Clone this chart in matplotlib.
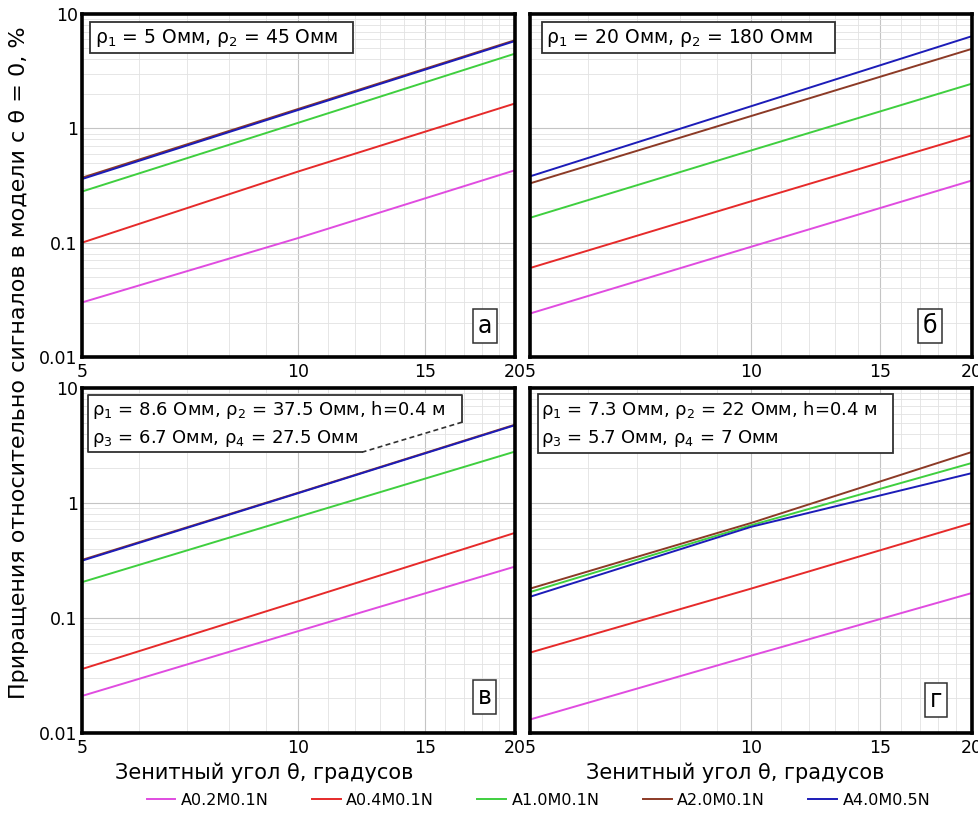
import numpy as np
import matplotlib
matplotlib.use("Agg")
import matplotlib.pyplot as plt
from matplotlib.ticker import FixedLocator, FixedFormatter, NullFormatter
from matplotlib.patches import Rectangle

plt.rcParams['font.family'] = ['DejaVu Sans']

# zenith angle, degrees
theta = [5, 10, 20]

labels = ['A0.2M0.1N', 'A0.4M0.1N', 'A1.0M0.1N', 'A2.0M0.1N', 'A4.0M0.5N']
colors = ['#e04ce0', '#e62a2a', '#3fcf3f', '#8c3a26', '#1c1cb8']

# increments, %, per panel and model (order as in labels)
panel_a = [[0.030, 0.11, 0.43],
           [0.10, 0.42, 1.65],
           [0.28, 1.12, 4.5],
           [0.37, 1.48, 5.9],
           [0.36, 1.45, 5.8]]
panel_b = [[0.024, 0.092, 0.35],
           [0.06, 0.23, 0.87],
           [0.165, 0.64, 2.46],
           [0.33, 1.28, 4.96],
           [0.38, 1.56, 6.4]]
panel_v = [[0.021, 0.077, 0.28],
           [0.036, 0.14, 0.55],
           [0.205, 0.76, 2.8],
           [0.32, 1.23, 4.8],
           [0.315, 1.22, 4.75]]
panel_g = [[0.0131, 0.047, 0.165],
           [0.05, 0.18, 0.67],
           [0.168, 0.64, 2.23],
           [0.18, 0.67, 2.78],
           [0.153, 0.62, 1.82]]

panel_letters = ['а', 'б', 'в', 'г']
panel_notes = [['ρ$_1$ = 5 Омм, ρ$_2$ = 45 Омм'],
               ['ρ$_1$ = 20 Омм, ρ$_2$ = 180 Омм'],
               ['ρ$_{1}$ = 8.6 Омм, ρ$_{2}$ = 37.5 Омм, h=0.4 м',
                'ρ$_{3}$ = 6.7 Омм, ρ$_{4}$ = 27.5 Омм'],
               ['ρ$_{1}$ = 7.3 Омм, ρ$_{2}$ = 22 Омм, h=0.4 м',
                'ρ$_{3}$ = 5.7 Омм, ρ$_{4}$ = 7 Омм']]

fig = plt.figure(figsize=(9.79, 8.14), dpi=100)

W = 979.0
H = 814.0
def box(x0, y0, x1, y1):
    return [x0 / W, 1 - y1 / H, (x1 - x0) / W, (y1 - y0) / H]

rects = [box(82, 14, 515, 357), box(530, 14, 972, 357),
         box(82, 388, 515, 733), box(530, 388, 972, 733)]
datas = [panel_a, panel_b, panel_v, panel_g]
letter_pos = [(0.93, 0.09), (0.905, 0.09), (0.93, 0.104), (0.918, 0.096)]
NOTE_FS = 13

axes = []
for i in range(4):
    ax = fig.add_axes(rects[i])
    axes.append(ax)
    for j in range(5):
        ax.plot(theta, datas[i][j], color=colors[j], lw=1.4, label=labels[j])
    ax.set_xscale('log')
    ax.set_yscale('log')
    ax.set_xlim(5, 20)
    ax.set_ylim(0.01, 10)

    ax.xaxis.set_major_locator(FixedLocator([5, 10, 15, 20]))
    ax.xaxis.set_minor_locator(FixedLocator([6, 7, 8, 9, 11, 12, 13, 14, 16, 17, 18, 19]))
    ax.xaxis.set_major_formatter(FixedFormatter(['5', '10', '15', '20']))
    ax.xaxis.set_minor_formatter(NullFormatter())
    ax.yaxis.set_major_locator(FixedLocator([0.01, 0.1, 1, 10]))
    ax.yaxis.set_minor_locator(FixedLocator([k * 10.0 ** e for e in (-2, -1, 0) for k in range(2, 10)]))
    ax.yaxis.set_minor_formatter(NullFormatter())
    if i % 2 == 0:
        ax.yaxis.set_major_formatter(FixedFormatter(['0.01', '0.1', '1', '10']))
    else:
        ax.yaxis.set_major_formatter(NullFormatter())

    ax.grid(True, which='major', color='#c4c4c4', lw=0.8)
    ax.grid(True, which='minor', color='#e2e2e2', lw=0.6)
    ax.tick_params(which='both', length=0, labelsize=12.5)
    ax.tick_params(axis='x', pad=4)
    ax.tick_params(axis='y', pad=3)
    for s in ax.spines.values():
        s.set_linewidth(2.6)
        s.set_color('black')

    # note box
    if i == 0:
        ax.add_patch(Rectangle((0.018, 0.886), 0.608, 0.09, transform=ax.transAxes,
                               fc='white', ec='#303030', lw=1.3, zorder=4))
        ax.text(0.03, 0.93, panel_notes[i][0], transform=ax.transAxes, ha='left', va='center',
                fontsize=NOTE_FS + 0.5, zorder=5)
    elif i == 1:
        ax.add_patch(Rectangle((0.027, 0.886), 0.663, 0.09, transform=ax.transAxes,
                               fc='white', ec='#303030', lw=1.3, zorder=4))
        ax.text(0.037, 0.93, panel_notes[i][0], transform=ax.transAxes, ha='left', va='center',
                fontsize=NOTE_FS + 0.5, zorder=5)
    elif i == 2:
        px = [0.014, 0.878, 0.878, 0.647, 0.014, 0.014]
        py = [0.980, 0.980, 0.901, 0.814, 0.814, 0.980]
        ax.fill(px, py, color='white', transform=ax.transAxes, zorder=4)
        ax.plot([0.647, 0.014, 0.014, 0.878, 0.878], [0.814, 0.814, 0.980, 0.980, 0.901],
                color='#303030', lw=1.3, transform=ax.transAxes, zorder=5)
        ax.plot([0.878, 0.647], [0.901, 0.814], color='#303030', lw=1.2, ls=(0, (3, 2)),
                transform=ax.transAxes, zorder=5)
        ax.text(0.022, 0.937, panel_notes[i][0], transform=ax.transAxes, ha='left', va='center',
                fontsize=NOTE_FS, zorder=6)
        ax.text(0.022, 0.853, panel_notes[i][1], transform=ax.transAxes, ha='left', va='center',
                fontsize=NOTE_FS, zorder=6)
    else:
        ax.add_patch(Rectangle((0.018, 0.812), 0.803, 0.171, transform=ax.transAxes,
                               fc='white', ec='#303030', lw=1.3, zorder=4))
        ax.text(0.025, 0.937, panel_notes[i][0], transform=ax.transAxes, ha='left', va='center',
                fontsize=NOTE_FS, zorder=6)
        ax.text(0.025, 0.853, panel_notes[i][1], transform=ax.transAxes, ha='left', va='center',
                fontsize=NOTE_FS, zorder=6)

    ax.text(letter_pos[i][0], letter_pos[i][1], panel_letters[i], transform=ax.transAxes,
            ha='center', va='center', fontsize=17, zorder=5,
            bbox=dict(boxstyle='square,pad=0.2', fc='white', ec='#303030', lw=1.1))

axes[2].set_xlabel('Зенитный угол θ, градусов', fontsize=15, labelpad=3)
axes[2].xaxis.set_label_coords(0.42, -0.085)
axes[3].set_xlabel('Зенитный угол θ, градусов', fontsize=15, labelpad=3)
axes[3].xaxis.set_label_coords(0.464, -0.085)

fig.text(0.019, 0.555, 'Приращения относительно сигналов в модели с θ = 0, %',
         rotation=90, ha='center', va='center', fontsize=16)

handles, labs = axes[0].get_legend_handles_labels()
fig.legend(handles, labs, loc='lower center', bbox_to_anchor=(0.55, -0.01), ncol=5,
           frameon=False, fontsize=11.5, handlelength=1.8, handletextpad=0.35, columnspacing=2.7)

fig.savefig('out.png', dpi=100)
